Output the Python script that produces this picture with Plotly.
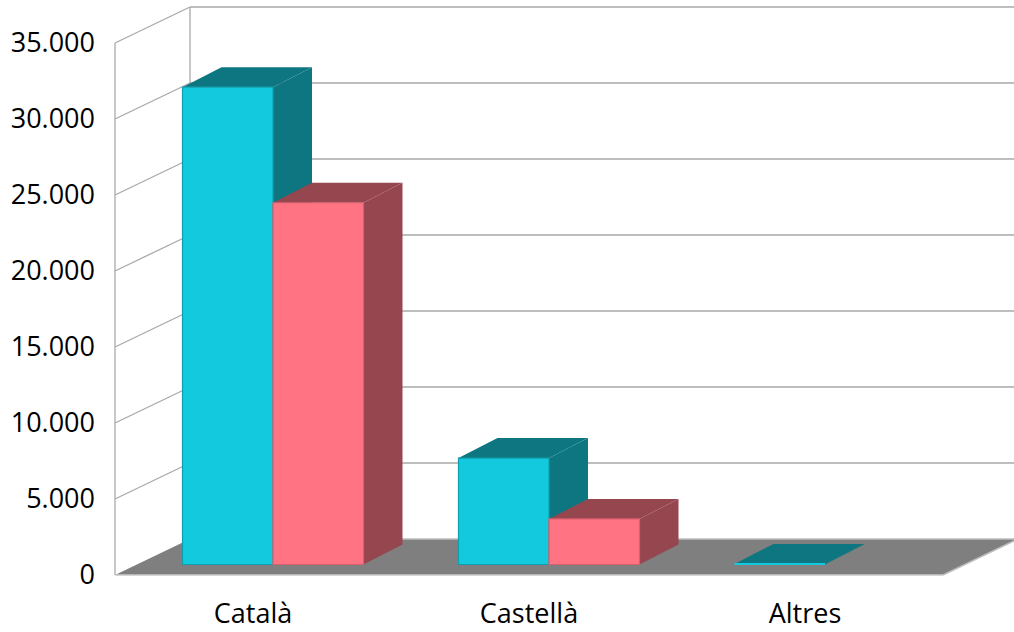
import plotly.graph_objects as go

# ---- data ----
categories = ["Català", "Castellà", "Altres"]
series_cyan = [31400, 7000, 40]
series_pink = [23800, 3000, 0]
y_tickvals = [0, 5000, 10000, 15000, 20000, 25000, 30000, 35000]
y_ticktext = ["0", "5.000", "10.000", "15.000", "20.000", "25.000", "30.000", "35.000"]

# ---- layout / projection constants ----
W, H = 1014, 632
ML, MB = 108, 40
PX_X = 276.0             # px per category unit
PX_Y = 76.0 / 5000.0     # px per value unit
X0_PX, Y0_PX = 115.0, 575.0   # pixel of front-left floor corner
x_range = [-0.5 - (X0_PX - ML) / PX_X, -0.5 + (W - X0_PX) / PX_X]
y_range = [-((H - MB) - Y0_PX) / PX_Y, Y0_PX / PX_Y]

DX = 75.0 / PX_X          # full depth offset (x units)
DY = 36.0 / PX_Y          # full depth offset (value units)
SHIFT = 20.0 / PX_X       # bar front plane offset (x)
BASE = 10.5 / PX_Y        # bar front plane offset (y)
BDX = 39.0 / PX_X         # bar depth (x)
BDY = 20.0 / PX_Y         # bar depth (y)
BW = 90.5 / PX_X          # bar width (category units)
xl, xr = -0.5, 2.5
ymax = 35000

c_front, c_dark = "#13C9DD", "#0E7680"
p_front, p_dark = "#FF7383", "#96464F"
grid_c = "#A9A9A9"


def poly(pts, color):
    path = "M " + " L ".join(f"{x},{y}" for x, y in pts) + " Z"
    return dict(type="path", path=path, xref="x", yref="y", fillcolor=color,
                line=dict(width=0), layer="below")


def seg(x0, y0, x1, y1, color=grid_c, w=1.3):
    return dict(type="line", x0=x0, y0=y0, x1=x1, y1=y1, xref="x", yref="y",
                line=dict(color=color, width=w), layer="below")


shapes = []
# walls
for v in y_tickvals[1:]:
    shapes.append(seg(xl, v, xl + DX, v + DY))
    shapes.append(seg(xl + DX, v + DY, x_range[1] + 1, v + DY))
shapes.append(seg(xl, 0, xl, ymax))
shapes.append(seg(xl + DX, DY, xl + DX, ymax + DY))
# floor
shapes.append(poly([(xl, 0), (xr, 0), (xr + DX, DY), (xl + DX, DY)], "#7F7F7F"))
shapes.append(seg(xl, 0, xr, 0, "#C8C8C8", 1.5))
shapes.append(seg(xl + DX, DY, xr + DX + 1, DY, "#BDBDBD", 1.5))
shapes.append(seg(xr, 0, xr + DX, DY, "#BDBDBD", 1.5))

bar_x = [[], []]
for i in range(len(categories)):
    for k, (vals, dark) in enumerate([(series_cyan, c_dark), (series_pink, p_dark)]):
        v = vals[i]
        left = i + SHIFT - BW + k * BW
        right = left + BW
        bar_x[k].append(left + BW / 2)
        if v <= 0:
            continue
        top = BASE + v
        shapes.append(poly([(right, BASE), (right, top), (right + BDX, top + BDY),
                            (right + BDX, BASE + BDY)], dark))
        shapes.append(poly([(left, top), (right, top), (right + BDX, top + BDY),
                            (left + BDX, top + BDY)], dark))


def outline_widths(vals):
    return [1.2 if v >= 500 else 0 for v in vals]


fig = go.Figure()
fig.add_trace(go.Bar(x=bar_x[0], y=series_cyan, base=BASE, width=BW,
                     marker=dict(color=c_front,
                                 line=dict(color="#109DAE", width=outline_widths(series_cyan))),
                     hoverinfo="skip"))
fig.add_trace(go.Bar(x=bar_x[1], y=series_pink, base=BASE, width=BW,
                     marker=dict(color=p_front,
                                 line=dict(color="#D85F6D", width=outline_widths(series_pink))),
                     hoverinfo="skip"))

fig.update_layout(
    width=W, height=H, margin=dict(l=ML, r=0, t=0, b=MB, autoexpand=False),
    barmode="overlay", showlegend=False, plot_bgcolor="white", paper_bgcolor="white",
    font=dict(family="Open Sans", size=27, color="black"),
    shapes=shapes,
    xaxis=dict(range=x_range, tickvals=[0, 1, 2], ticktext=categories, showgrid=False,
               zeroline=False, showline=False, ticks="", ticklabelstandoff=3, fixedrange=True),
    yaxis=dict(range=y_range, tickvals=y_tickvals, ticktext=y_ticktext, showgrid=False,
               zeroline=False, showline=False, ticks="", ticklabelstandoff=12, fixedrange=True),
)
fig.write_html("out.html")
